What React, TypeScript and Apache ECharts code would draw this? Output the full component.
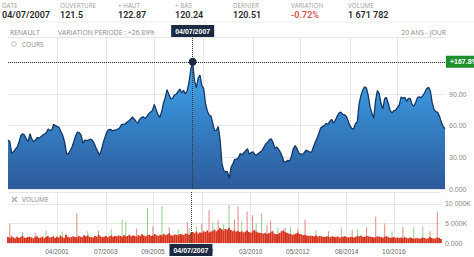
import React, { useEffect, useRef } from "react";
import * as echarts from "echarts";

const YEARS = [1999, 2000, 2001, 2002, 2003, 2004, 2005, 2006, 2007, 2008, 2009, 2010, 2011, 2012, 2013, 2014, 2015, 2016, 2017, 2018];
const MONTHS: string[] = YEARS.flatMap((y) =>
  Array.from({ length: 12 }, (_, i) => `${y}-${String(i + 1).padStart(2, "0")}`)
);
const TICK_MONTHS = ["2001-04", "2003-07", "2005-09", "2007-12", "2010-03", "2012-05", "2014-08", "2016-10"];

const PRICE = [
  46.4, 44.8, 33.8, 35.4, 37.6, 39.5, 44.2, 50.5, 52.4, 51.2, 47.4, 44.8,
  52.4, 47.4, 44.8, 46.4, 48.9, 48.0, 49.6, 51.2, 52.1, 53.4, 56.8, 55.6,
  55.9, 61.3, 60.0, 59.1, 58.1, 54.3, 50.5, 44.2, 33.8, 33.2, 36.3, 39.8,
  44.8, 50.5, 54.0, 53.4, 50.8, 43.3, 46.4, 46.1, 46.4, 47.4, 46.4, 43.9,
  39.5, 36.0, 32.2, 36.6, 43.3, 48.9, 53.7, 56.2, 56.5, 55.3, 55.6, 55.9,
  56.8, 57.8, 60.9, 61.3, 61.6, 63.2, 64.4, 66.0, 68.2, 66.3, 64.1, 62.2,
  66.0, 67.9, 68.2, 67.0, 68.8, 71.4, 72.9, 74.5, 80.2, 75.2, 70.4, 67.9,
  72.9, 81.2, 86.5, 94.1, 89.4, 85.6, 85.9, 89.1, 89.7, 92.5, 94.7, 91.0,
  93.5, 90.0, 93.1, 101.1, 113.7, 120.51, 102.3, 96.0, 104.8, 108.0, 97.9, 95.4,
  81.2, 73.9, 70.1, 69.2, 62.2, 55.3, 55.6, 59.1, 46.4, 24.3, 17.4, 16.4,
  16.4, 10.16, 20.5, 24.0, 28.1, 28.1, 29.7, 33.5, 32.5, 34.4, 36.3, 38.2,
  32.8, 34.7, 35.1, 32.8, 32.2, 33.8, 35.1, 36.6, 39.8, 42.9, 44.2, 46.7,
  47.4, 43.9, 38.5, 39.8, 37.6, 34.7, 30.6, 25.3, 25.9, 27.2, 26.5, 30.9,
  37.9, 41.1, 38.5, 34.1, 33.2, 32.8, 34.4, 36.9, 36.0, 35.1, 34.7, 39.8,
  44.2, 48.3, 52.7, 57.8, 59.1, 60.0, 62.2, 61.3, 64.1, 66.0, 62.2, 65.1,
  68.8, 72.0, 72.9, 70.7, 70.4, 68.8, 64.7, 60.0, 57.5, 56.8, 61.9, 63.5,
  80.5, 88.4, 93.5, 96.9, 95.7, 88.7, 78.0, 72.0, 67.0, 83.4, 93.2, 90.3,
  81.2, 75.8, 85.9, 86.5, 80.8, 74.5, 72.0, 74.2, 74.8, 77.4, 79.6, 87.2,
  85.9, 86.8, 83.1, 85.9, 85.6, 79.9, 78.6, 82.1, 86.8, 87.2, 86.5, 88.7,
  91.6, 95.1, 96.3, 92.8, 81.8, 75.5, 73.3, 72.6, 68.8, 63.2, 59.1, 57.1,
];

// volume in thousands of shares
const VOLUME_BASE = [
  1500, 1300, 1700, 1400, 1200, 1600, 1300, 1500, 1800, 1400, 1300, 1500,
  1600, 1400, 1200, 1500, 1700, 1300, 1400, 1600, 1200, 1500, 1800, 1400,
  1500, 1700, 1300, 1600, 1400, 1900, 1500, 1300, 2100, 1600, 1400, 1500,
  1700, 1500, 1400, 1800, 1600, 1500, 2000, 1700, 1900, 1600, 1500, 1400,
  1800, 1600, 2100, 1700, 1500, 1600, 1800, 1500, 1700, 1900, 1600, 1800,
  1700, 1900, 1800, 1600, 2000, 1700, 1800, 2100, 1700, 1900, 1800, 1600,
  2000, 1800, 2200, 1900, 1700, 2000, 2100, 1800, 1900, 2300, 2000, 1800,
  2100, 1900, 2300, 2000, 2200, 2500, 2000, 1900, 2200, 2100, 2000, 2300,
  2200, 2000, 2400, 2300, 2100, 2600, 2800, 2500, 2900, 2400, 2700, 2600,
  3000, 2800, 3200, 2700, 2900, 3100, 3400, 3000, 3300, 3800, 3500, 3200,
  3600, 3400, 3900, 3300, 3000, 3200, 2900, 3100, 2800, 3000, 2700, 2900,
  3200, 2800, 2600, 3000, 3300, 2900, 2700, 2600, 2500, 2400, 2600, 2300,
  2500, 2700, 3000, 2400, 2200, 2300, 2600, 3000, 3200, 2800, 2600, 2400,
  2300, 2100, 2200, 2400, 2600, 2300, 2200, 2000, 2100, 1900, 1800, 1900,
  1800, 1700, 1900, 1600, 1800, 1700, 1600, 1500, 1700, 1600, 1500, 1700,
  1600, 1500, 1700, 1400, 1500, 1600, 1700, 1500, 1400, 1600, 1500, 1400,
  1600, 1800, 1700, 1900, 1500, 1600, 1800, 1700, 1600, 1500, 1400, 1500,
  1700, 1600, 1500, 1400, 1600, 1700, 1500, 1300, 1400, 1500, 1300, 1400,
  1300, 1400, 1200, 1500, 1300, 1200, 1400, 1300, 1100, 1200, 1300, 1100,
  1200, 1400, 1300, 1100, 1200, 1500, 1300, 1100, 1200, 1400, 1300, 1032,
];

// [month index, volume (K), direction]
const SPIKES: [number, number, "u" | "d"][] = [
  [1, 4900, "d"], [8, 2800, "u"], [15, 2600, "d"], [21, 3100, "u"], [30, 2900, "u"],
  [38, 7600, "d"], [44, 3000, "u"], [50, 3100, "d"], [57, 3600, "u"], [63, 5800, "u"],
  [65, 5400, "u"], [71, 3700, "d"], [77, 8900, "u"], [80, 4200, "d"], [85, 9300, "u"],
  [89, 4000, "d"], [94, 3500, "u"], [99, 5300, "d"], [100, 3800, "u"], [104, 4200, "u"],
  [107, 5000, "d"], [111, 8400, "d"], [113, 5200, "u"], [116, 5800, "d"], [119, 4800, "u"],
  [122, 9700, "u"], [125, 6000, "d"], [127, 9300, "d"], [129, 5500, "u"], [132, 8000, "d"],
  [135, 7100, "d"], [137, 5000, "u"], [140, 7600, "u"], [143, 4500, "d"], [145, 5700, "d"],
  [149, 4000, "u"], [153, 3800, "d"], [156, 4000, "u"], [160, 3500, "d"], [164, 6000, "d"],
  [170, 3200, "u"], [177, 3000, "d"], [184, 4000, "u"], [190, 3300, "d"], [193, 3500, "u"],
  [198, 4000, "d"], [203, 6700, "d"], [208, 5000, "d"], [212, 3000, "u"], [218, 4000, "d"],
  [224, 4000, "u"], [229, 4200, "u"], [233, 3000, "d"], [237, 8000, "d"],
];

const CROSS_MONTH = "2007-06";
const CROSS_DATE = "04/07/2007";
const CROSS_PRICE = 120.51;
const LAST_PRICE = 57.1;
const MIN_PRICE = 10.16;
const LAST_VOLUME = 1032;

const HEADER_LABELS = ["DATE", "OUVERTURE", "+ HAUT", "+ BAS", "DERNIER", "VARIATION", "VOLUME"];
const HEADER_VALUES = ["04/07/2007", "121.5", "122.87", "120.24", "120.51", "-0.72%", "1 671 782"];
const HEADER_X = [2, 60, 118, 175, 233, 291, 348];

const LABEL_FONT = "'Open Sans', 'Noto Sans', sans-serif";
const NUM_FONT = "'Liberation Sans', Arial, sans-serif";

function fmtK(v: number) {
  if (v === 0) return "0.000";
  return String(v).replace(/\B(?=(\d{3})+(?!\d))/g, " ") + "K";
}

export default function App() {
  const ref = useRef<HTMLDivElement>(null);

  useEffect(() => {
    if (!ref.current) return;
    const chart = echarts.init(ref.current, undefined, { renderer: "svg" });

    const spikeData = MONTHS.map(() => "-" as any);
    SPIKES.forEach(([i, v, d]) => {
      spikeData[i] = {
        value: v,
        itemStyle: { color: d === "u" ? "rgba(110,190,100,0.75)" : "rgba(215,95,85,0.75)" },
      };
    });

    const isTick = (_: number, value: string) => TICK_MONTHS.includes(value);

    const headerGraphics: any[] = [];
    HEADER_LABELS.forEach((t, i) => {
      headerGraphics.push({
        type: "text",
        x: HEADER_X[i],
        y: 2.5,
        style: { text: t, fill: "#a0a0a0", fontSize: 6.3, fontFamily: LABEL_FONT },
      });
      headerGraphics.push({
        type: "text",
        x: HEADER_X[i],
        y: 10,
        style: {
          text: HEADER_VALUES[i],
          fill: i === 5 ? "#d9534f" : "#2a2a2a",
          fontSize: 9,
          fontWeight: 600,
          fontFamily: "Roboto, sans-serif",
        },
      });
    });

    const boxLabel = (text: string, bg: string, position: string, distance = 1) => ({
      show: true,
      position,
      distance,
      formatter: text,
      backgroundColor: bg,
      color: "#fff",
      padding: [3, 4, 2, 4],
      fontSize: 7,
      fontWeight: "bold",
      fontFamily: NUM_FONT,
    });

    const rowText = (text: string, x: number, align = "left") => ({
      type: "text",
      x,
      y: 32,
      style: {
        text,
        fill: "#8a8a8a",
        fontSize: 6.8,
        fontFamily: LABEL_FONT,
        align,
        verticalAlign: "middle",
      },
    });

    chart.setOption({
      animation: false,
      backgroundColor: "#fff",
      grid: [
        { left: 8, right: 29, top: 37, height: 152 },
        { left: 8, right: 29, top: 192, height: 51 },
      ],
      xAxis: [
        {
          type: "category",
          gridIndex: 0,
          data: MONTHS,
          boundaryGap: false,
          axisLine: { show: false },
          axisTick: { show: false },
          axisLabel: { show: false },
          splitLine: { show: true, interval: isTick, lineStyle: { color: "#e6e6e6", width: 1 } },
        },
        {
          type: "category",
          gridIndex: 1,
          data: MONTHS,
          boundaryGap: false,
          axisLine: { show: false },
          axisTick: { show: false },
          axisLabel: {
            show: true,
            interval: isTick,
            color: "#666",
            fontSize: 6.5,
            fontFamily: NUM_FONT,
            margin: 5,
            formatter: (v: string) => `${v.slice(5)}/${v.slice(0, 4)}`,
          },
          splitLine: { show: true, interval: isTick, lineStyle: { color: "#e6e6e6", width: 1 } },
        },
        {
          type: "category",
          gridIndex: 1,
          data: MONTHS,
          boundaryGap: false,
          show: false,
        },
      ],
      yAxis: [
        {
          type: "value",
          gridIndex: 0,
          position: "right",
          min: 0,
          max: 144,
          interval: 30,
          axisLine: { show: false },
          axisTick: { show: false },
          axisLabel: {
            color: "#888",
            fontSize: 7,
            fontFamily: NUM_FONT,
            margin: 4,
            showMaxLabel: false,
            formatter: (v: number) => (v === 0 ? "0.000" : v.toFixed(2)),
          },
          splitLine: { show: true, lineStyle: { color: "#e6e6e6", width: 1 } },
        },
        {
          type: "value",
          gridIndex: 1,
          position: "right",
          min: 0,
          max: 13000,
          interval: 5000,
          axisLine: { show: false },
          axisTick: { show: false },
          axisLabel: {
            color: "#888",
            fontSize: 7,
            fontFamily: NUM_FONT,
            margin: 4,
            showMaxLabel: false,
            formatter: fmtK,
          },
          splitLine: { show: true, lineStyle: { color: "#e6e6e6", width: 1 } },
        },
      ],
      series: [
        {
          type: "line",
          name: "Cours",
          xAxisIndex: 0,
          yAxisIndex: 0,
          data: PRICE,
          symbol: "none",
          lineStyle: { color: "#143766", width: 1.3 },
          areaStyle: {
            opacity: 1,
            color: new echarts.graphic.LinearGradient(0, 0, 0, 1, [
              { offset: 0, color: "#44aaee" },
              { offset: 0.45, color: "#3583c8" },
              { offset: 1, color: "#2d5a9b" },
            ]),
          },
          z: 2,
          markLine: {
            silent: true,
            symbol: ["none", "none"],
            animation: false,
            data: [
              {
                xAxis: CROSS_MONTH,
                lineStyle: { type: "dotted", color: "#333", width: 1 },
                label: boxLabel(CROSS_DATE, "#1b2a40", "end", 0),
              },
              {
                yAxis: CROSS_PRICE,
                lineStyle: { type: "dotted", color: "#333", width: 1 },
                label: boxLabel("+167.8%", "#1f8f2c", "end"),
              },
              {
                yAxis: LAST_PRICE,
                lineStyle: { opacity: 0 },
                label: boxLabel("57.10", "#3d74d9", "end"),
              },
              {
                yAxis: MIN_PRICE,
                lineStyle: { opacity: 0 },
                label: boxLabel(MIN_PRICE.toFixed(2), "#c3141c", "end"),
              },
            ],
          },
          markPoint: {
            silent: true,
            symbol: "circle",
            symbolSize: 8,
            itemStyle: { color: "#1b2a40" },
            label: { show: false },
            data: [{ coord: [CROSS_MONTH, CROSS_PRICE] }],
          },
        },
        {
          type: "bar",
          name: "Volume",
          xAxisIndex: 1,
          yAxisIndex: 1,
          data: VOLUME_BASE,
          barCategoryGap: "0%",
          itemStyle: { color: "#d6341c" },
          z: 2,
          markLine: {
            silent: true,
            symbol: ["none", "none"],
            animation: false,
            data: [
              {
                xAxis: CROSS_MONTH,
                lineStyle: { type: "dotted", color: "#333", width: 1 },
                label: boxLabel(CROSS_DATE, "#1b2a40", "start", 1),
              },
              {
                yAxis: LAST_VOLUME,
                lineStyle: { opacity: 0 },
                label: boxLabel("1 032K", "#1f9a2c", "end"),
              },
            ],
          },
        },
        {
          type: "bar",
          name: "Pics",
          xAxisIndex: 2,
          yAxisIndex: 1,
          data: spikeData,
          barWidth: 1,
          z: 1,
        },
      ],
      graphic: [
        ...headerGraphics,
        { type: "line", shape: { x1: 0, y1: 22, x2: 474, y2: 22 }, style: { stroke: "#eeeeee", lineWidth: 1 } },
        rowText("RENAULT", 10),
        rowText("VARIATION PERIODE : +26.89%", 58),
        rowText("20 ANS - JOUR", 446, "right"),
        { type: "circle", shape: { cx: 14, cy: 44, r: 2.3 }, style: { fill: "none", stroke: "#aaa", lineWidth: 0.8 } },
        {
          type: "text",
          x: 22,
          y: 44,
          style: { text: "COURS", fill: "#888", fontSize: 6.5, fontFamily: LABEL_FONT, verticalAlign: "middle" },
        },
        { type: "line", shape: { x1: 12, y1: 197, x2: 17, y2: 202 }, style: { stroke: "#aaa", lineWidth: 1.3 } },
        { type: "line", shape: { x1: 17, y1: 197, x2: 12, y2: 202 }, style: { stroke: "#aaa", lineWidth: 1.3 } },
        {
          type: "text",
          x: 22,
          y: 199.5,
          style: { text: "VOLUME", fill: "#888", fontSize: 6.5, fontFamily: LABEL_FONT, verticalAlign: "middle" },
        },
      ],
    });

    return () => chart.dispose();
  }, []);

  return (
    <div
      ref={ref}
      style={{ position: "fixed", left: 0, top: 0, width: 474, height: 257, background: "#fff" }}
    />
  );
}
